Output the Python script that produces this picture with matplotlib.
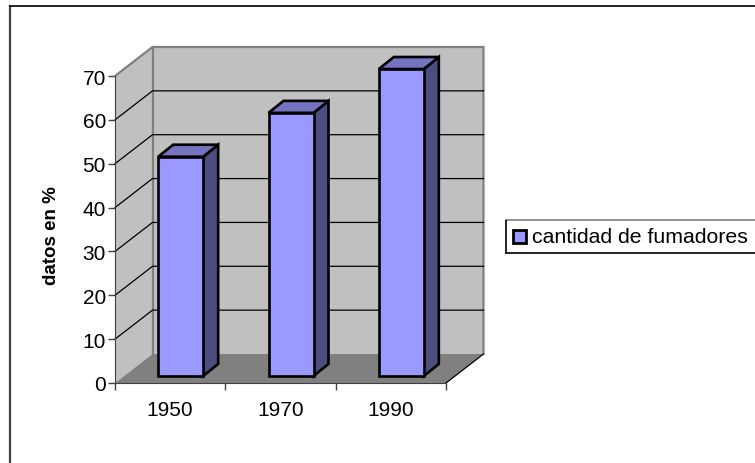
import matplotlib
matplotlib.use("Agg")
import matplotlib.pyplot as plt
from matplotlib.lines import Line2D
from matplotlib.patches import Polygon, Rectangle

years = ["1950", "1970", "1990"]
fumadores = [50, 60, 70]
yticks = [0, 10, 20, 30, 40, 50, 60, 70]
serie = "cantidad de fumadores"

plt.rcParams['font.family'] = ['Liberation Sans', 'DejaVu Sans']

W, H = 755, 464
fig = plt.figure(figsize=(W / 100, H / 100), dpi=100)

# front plane of the fake 3d box
ax = fig.add_axes([115 / W, (H - 384) / H, 331 / W, 307 / H])
ax.set_xlim(0, 3)
ax.set_ylim(0, 70)
ax.patch.set_visible(False)
ax.set_zorder(5)

# pixel offsets in data units
px = 3 / 331
py = 70 / 307
dx, dy = 37.5 * px, 29 * py


def poly(pts, fc, ec="none", lw=0, z=1):
    ax.add_patch(Polygon(pts, closed=True, facecolor=fc, edgecolor=ec, linewidth=lw, zorder=z,
                         clip_on=False, joinstyle="miter"))


# walls and floor
poly([(0, 0), (dx, dy), (dx, 70 + dy), (0, 70)], "#c0c0c0")
poly([(dx, dy), (3 + dx, dy), (3 + dx, 70 + dy), (dx, 70 + dy)], "#c0c0c0")
poly([(0, 0), (3, 0), (3 + dx, dy), (dx, dy)], "#808080")

# grey edges of the back wall
ax.plot([0, dx, 3 + dx, 3 + dx], [70, 70 + dy, 70 + dy, dy], color="#808080", lw=1.6, zorder=2, clip_on=False,
        solid_joinstyle="miter")
ax.plot([dx, dx], [dy, 70 + dy], color="#808080", lw=1.6, zorder=2, clip_on=False)

# gridlines
for v in yticks[1:-1]:
    ax.plot([0, dx, 3 + dx], [v, v + dy, v + dy], color="black", lw=0.9, zorder=3, clip_on=False)
ax.plot([3, 3 + dx], [0, dy], color="black", lw=0.9, zorder=3, clip_on=False)

# bars
bx = 10.5 * px
bw = 45 * px
by = 7 * py
ddx, ddy = 15 * px, 12 * py
for i, v in enumerate(fumadores):
    x0 = i + 0.5 - bw / 2 + bx
    x1 = x0 + bw
    y0, y1 = by, v + by
    poly([(x1, y0), (x1 + ddx, y0 + ddy), (x1 + ddx, y1 + ddy), (x1, y1)], "#4d4d80", "black", 1.9, 4)
    poly([(x0, y1), (x0 + ddx, y1 + ddy), (x1 + ddx, y1 + ddy), (x1, y1)], "#7373bf", "black", 1.9, 4)
    poly([(x0, y0), (x1, y0), (x1, y1), (x0, y1)], "#9999ff", "black", 1.9, 5)

ax.spines['top'].set_visible(False)
ax.spines['right'].set_visible(False)
ax.spines['left'].set_color("#404040")
ax.spines['bottom'].set_color("#404040")
ax.spines['left'].set_zorder(6)
ax.spines['bottom'].set_zorder(6)

ax.set_yticks(yticks)
ax.set_xticks([0, 1, 2, 3])
ax.set_xticklabels([])
ax.set_xticks([0.5, 1.5, 2.5], labels=years, minor=True)
ax.tick_params(axis='x', which='minor', length=0, labelsize=15, pad=12)
ax.tick_params(axis='x', which='major', length=5, width=1, color="#404040")
ax.tick_params(axis='y', length=5, width=1, color="#404040", labelsize=15, pad=1.5)
ax.set_ylabel("datos en %", fontweight="bold", fontsize=13.5)
ax.yaxis.set_label_coords((60 - 115) / 331, (384 - 236) / 307)


def fig_line(xs, ys, color, lw):
    fig.add_artist(Line2D([x / W for x in xs], [(H - y) / H for y in ys], color=color, linewidth=lw,
                          solid_capstyle="butt"))


# outer chart border, only left and top are inside the crop
fig_line([10, 10], [6, H], "#404040", 1.6)
fig_line([9, W], [7, 7], "black", 1.2)

# legend
fig_line([505, W], [221, 221], "#808080", 1.2)
fig_line([505, W], [254, 254], "black", 1.2)
fig_line([505.5, 505.5], [221, 254], "black", 1.2)
fig.add_artist(Rectangle((513 / W, (H - 244) / H), 13 / W, 13 / H, transform=fig.transFigure,
                         facecolor="#9999ff", edgecolor="black", linewidth=2))
fig.text(531.5 / W, (H - 238) / H, serie, fontsize=15.3, va="center", ha="left")

fig.savefig("out.png", dpi=100)
